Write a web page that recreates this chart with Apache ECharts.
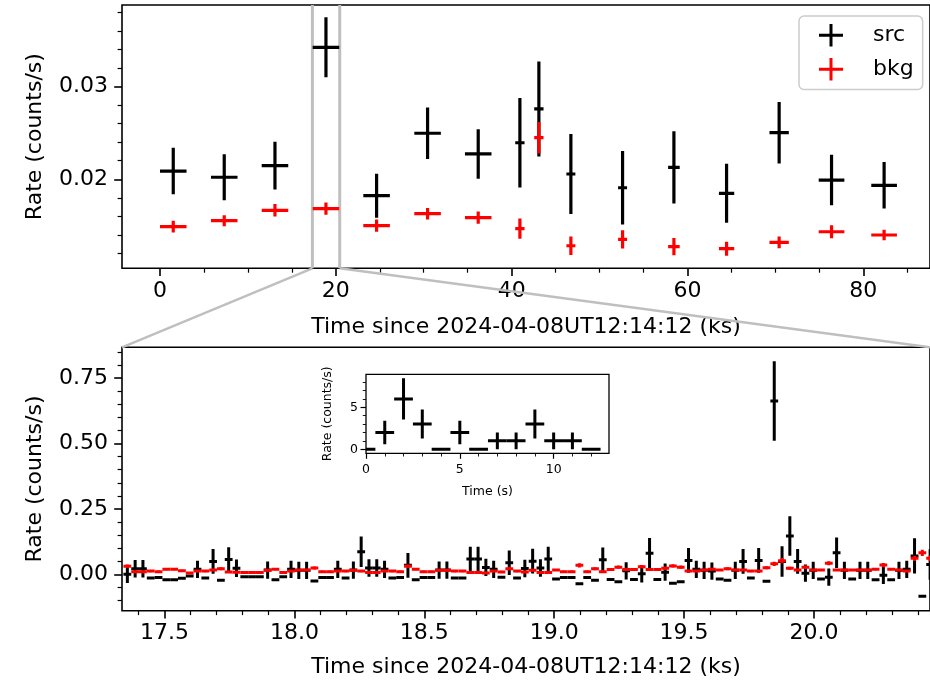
<!DOCTYPE html>
<html>
<head>
<meta charset="utf-8">
<script src="https://cdn.jsdelivr.net/npm/echarts@6/dist/echarts.min.js"></script>
<style>
  html, body { margin: 0; padding: 0; background: #fff; }
  #chart { width: 930px; height: 684px; }
</style>
</head>
<body>
<div id="chart"></div>
<script>
// ---- Orbit-binned light curve (top panel) ----
const orbitTime = [1.51, 7.31, 13.08, 18.88, 24.64, 30.44, 36.20, 40.94, 43.10, 46.74, 52.62, 58.46, 64.45, 70.43, 76.39, 82.37];
const orbitHalfWidth = [1.51, 1.51, 1.51, 1.51, 1.51, 1.51, 1.51, 0.53, 0.53, 0.51, 0.51, 0.66, 0.87, 1.10, 1.46, 1.46];
const orbitSrc = [0.02089, 0.02022, 0.02147, 0.03422, 0.01823, 0.02496, 0.02273, 0.02394, 0.02758, 0.02057, 0.01909, 0.02129, 0.01849, 0.02502, 0.01992, 0.01935];
const orbitSrcErr = [0.00251, 0.00248, 0.00257, 0.00323, 0.00237, 0.00278, 0.00267, 0.00482, 0.00512, 0.00431, 0.00395, 0.00390, 0.00318, 0.00332, 0.00273, 0.00251];
const orbitBkg = [0.01489, 0.01554, 0.01666, 0.01683, 0.01500, 0.01629, 0.01586, 0.01468, 0.02448, 0.01284, 0.01353, 0.01274, 0.01252, 0.01321, 0.01435, 0.01400];
const orbitBkgErr = [0.00063, 0.00059, 0.00067, 0.00066, 0.00066, 0.00063, 0.00066, 0.00110, 0.00170, 0.00099, 0.00099, 0.00093, 0.00075, 0.00063, 0.00070, 0.00057];

// ---- 30 s light curve of the zoomed orbit (bottom panel) ----
const fineHalfWidth = 0.015;
const fineTime = [
  17.357, 17.387, 17.417, 17.447, 17.477, 17.507, 17.537, 17.567, 17.597, 17.627,
  17.657, 17.687, 17.717, 17.747, 17.777, 17.807, 17.837, 17.867, 17.897, 17.927,
  17.957, 17.987, 18.017, 18.047, 18.077, 18.107, 18.137, 18.167, 18.197, 18.227,
  18.257, 18.287, 18.317, 18.347, 18.377, 18.407, 18.437, 18.467, 18.497, 18.527,
  18.557, 18.587, 18.617, 18.647, 18.677, 18.707, 18.737, 18.767, 18.797, 18.827,
  18.857, 18.887, 18.917, 18.947, 18.977, 19.007, 19.037, 19.067, 19.097, 19.127,
  19.157, 19.187, 19.217, 19.247, 19.277, 19.307, 19.337, 19.367, 19.397, 19.427,
  19.457, 19.487, 19.517, 19.547, 19.577, 19.607, 19.637, 19.667, 19.697, 19.727,
  19.757, 19.787, 19.817, 19.847, 19.877, 19.907, 19.937, 19.967, 19.997, 20.027,
  20.057, 20.087, 20.117, 20.147, 20.177, 20.207, 20.237, 20.267, 20.297, 20.327,
  20.357, 20.387, 20.417, 20.447
];
const fineSrc = [
  0.001, 0.022, 0.022, -0.013, -0.011, -0.020, -0.020, -0.014, -0.006, 0.020,
  -0.013, 0.050, -0.022, 0.057, 0.024, -0.008, -0.008, -0.008, 0.017, -0.020,
  -0.008, 0.020, 0.016, 0.016, -0.025, -0.011, -0.011, 0.020, -0.013, 0.017,
  0.087, 0.025, 0.025, 0.020, -0.013, -0.011, 0.035, -0.020, -0.011, -0.011,
  0.017, 0.017, -0.013, -0.013, 0.059, 0.059, 0.027, 0.020, -0.010, 0.045,
  -0.013, 0.023, 0.051, 0.025, 0.059, -0.017, -0.011, -0.011, -0.035, -0.011,
  -0.022, 0.056, -0.019, -0.028, 0.014, -0.019, 0.003, 0.081, -0.019, 0.009,
  -0.033, -0.028, 0.054, 0.020, 0.016, 0.013, -0.017, -0.022, 0.016, 0.050,
  -0.013, 0.054, -0.026, 0.662, 0.050, 0.147, 0.050, 0.005, 0.016, -0.017,
  -0.010, 0.083, 0.016, -0.017, 0.016, 0.016, -0.020, -0.003, -0.020, 0.016,
  0.020, 0.071, -0.083, 0.038
];
const fineSrcErr = [
  0.033, 0.033, 0.033, 0, 0, 0, 0, 0, 0, 0.033,
  0, 0.047, 0, 0.047, 0.033, 0, 0, 0, 0.033, 0,
  0, 0.033, 0.033, 0.033, 0, 0, 0, 0.033, 0, 0.033,
  0.058, 0.033, 0.033, 0.033, 0, 0, 0.047, 0, 0, 0,
  0.033, 0.033, 0, 0, 0.047, 0.047, 0.033, 0.033, 0, 0.047,
  0, 0.033, 0.047, 0.033, 0.047, 0, 0, 0, 0, 0,
  0, 0.047, 0, 0, 0.033, 0, 0.033, 0.058, 0, 0.033,
  0, 0, 0.047, 0.033, 0.033, 0.033, 0, 0, 0.033, 0.047,
  0, 0.047, 0, 0.152, 0.058, 0.075, 0.047, 0.033, 0.033, 0,
  0.033, 0.058, 0.033, 0, 0.033, 0.033, 0, 0.033, 0, 0.033,
  0.033, 0.067, 0, 0.058
];
const fineBkg = [
  0.032, 0.011, 0.011, 0.013, 0.011, 0.020, 0.020, 0.014, 0.006, 0.013,
  0.013, 0.017, 0.022, 0.010, 0.009, 0.008, 0.008, 0.008, 0.016, 0.020,
  0.008, 0.013, 0.017, 0.017, 0.025, 0.011, 0.011, 0.013, 0.013, 0.016,
  0.013, 0.008, 0.008, 0.013, 0.013, 0.011, 0.032, 0.020, 0.011, 0.011,
  0.016, 0.016, 0.013, 0.013, 0.008, 0.008, 0.006, 0.013, 0.010, 0.022,
  0.013, 0.010, 0.016, 0.008, 0.008, 0.017, 0.011, 0.011, 0.035, 0.011,
  0.022, 0.011, 0.019, 0.028, 0.019, 0.019, 0.030, 0.019, 0.019, 0.024,
  0.033, 0.028, 0.013, 0.013, 0.017, 0.020, 0.017, 0.022, 0.017, 0.017,
  0.013, 0.013, 0.026, 0.041, 0.053, 0.024, 0.017, 0.028, 0.017, 0.017,
  0.043, 0.017, 0.017, 0.017, 0.017, 0.017, 0.020, 0.036, 0.020, 0.017,
  0.013, 0.062, 0.083, 0.062
];
const fineBkgErr = [
  0.006, 0.004, 0.004, 0.004, 0.004, 0.004, 0.004, 0.004, 0.004, 0.004,
  0.004, 0.004, 0.006, 0.004, 0.004, 0.004, 0.004, 0.004, 0.004, 0.004,
  0.004, 0.004, 0.004, 0.004, 0.006, 0.004, 0.004, 0.004, 0.004, 0.004,
  0.004, 0.004, 0.004, 0.004, 0.004, 0.004, 0.006, 0.004, 0.004, 0.004,
  0.004, 0.004, 0.004, 0.004, 0.004, 0.004, 0.004, 0.004, 0.004, 0.006,
  0.004, 0.004, 0.004, 0.004, 0.004, 0.004, 0.004, 0.004, 0.008, 0.004,
  0.006, 0.004, 0.004, 0.006, 0.004, 0.004, 0.006, 0.004, 0.004, 0.006,
  0.006, 0.006, 0.004, 0.004, 0.004, 0.004, 0.004, 0.006, 0.004, 0.004,
  0.004, 0.004, 0.006, 0.008, 0.010, 0.006, 0.004, 0.006, 0.004, 0.004,
  0.008, 0.004, 0.004, 0.004, 0.004, 0.004, 0.004, 0.008, 0.004, 0.004,
  0.004, 0.010, 0.012, 0.010
];

// ---- 1 s light curve of the flare (inset) ----
const burstHalfWidth = 0.5;
const burstTime = [0, 1, 2, 3, 4, 5, 6, 7, 8, 9, 10, 11, 12];
const burstRate = [0, 2, 6, 3, 0, 2, 0, 1, 1, 3, 1, 1, 0];
const burstErr = [0, 1.41, 2.45, 1.73, 0, 1.41, 0, 1, 1, 1.73, 1, 1, 0];

// ---- Axis ranges and ticks ----
const zoomStart = 17.3364, zoomEnd = 20.4465;
const topX = { min: -4.32, max: 87.59, major: [0, 20, 40, 60, 80], minor: [5, 10, 15, 25, 30, 35, 45, 50, 55, 65, 70, 75, 85] };
const topY = { min: 0.010409, max: 0.038782, major: [0.02, 0.03], minor: [0.012, 0.014, 0.016, 0.018, 0.022, 0.024, 0.026, 0.028, 0.032, 0.034, 0.036, 0.038] };
const fineX = { min: zoomStart, max: zoomEnd, major: [17.5, 18.0, 18.5, 19.0, 19.5, 20.0],
  minor: [17.4, 17.6, 17.7, 17.8, 17.9, 18.1, 18.2, 18.3, 18.4, 18.6, 18.7, 18.8, 18.9, 19.1, 19.2, 19.3, 19.4, 19.6, 19.7, 19.8, 19.9, 20.1, 20.2, 20.3, 20.4] };
const fineY = { min: -0.138, max: 0.867, major: [0.0, 0.25, 0.5, 0.75],
  minor: [-0.1, -0.05, 0.05, 0.1, 0.15, 0.2, 0.3, 0.35, 0.4, 0.45, 0.55, 0.6, 0.65, 0.7, 0.8, 0.85] };
const burstX = { min: 0, max: 12.95, major: [0, 5, 10], minor: [1, 2, 3, 4, 6, 7, 8, 9, 11, 12] };
const burstY = { min: -0.48, max: 8.93, major: [0, 5], minor: [1, 2, 3, 4, 6, 7, 8] };

const FONT = 'DejaVu Sans';
const X_NAME = 'Time since 2024-04-08UT12:14:12 (ks)';
const Y_NAME = 'Rate (counts/s)';
const SRC_COLOR = '#000000';
const BKG_COLOR = '#ff0000';
const ZOOM_COLOR = '#bfbfbf';

function rows(x, y, xe, ye) {
  return x.map((t, i) => [t, y[i], Array.isArray(xe) ? xe[i] : xe, ye[i]]);
}

// Cross-shaped error bars: horizontal = bin width, vertical = 1 sigma
function errorBars(color, width) {
  return function (params, api) {
    const x = api.value(0), y = api.value(1), dx = api.value(2), dy = api.value(3);
    const mid = api.coord([x, y]);
    const left = api.coord([x - dx, y]);
    const right = api.coord([x + dx, y]);
    const style = { stroke: color, lineWidth: width, lineCap: 'butt', fill: null };
    const children = [{ type: 'line', shape: { x1: left[0], y1: mid[1], x2: right[0], y2: mid[1] }, style }];
    if (dy > 0) {
      const top = api.coord([x, y + dy]);
      const bottom = api.coord([x, y - dy]);
      children.push({ type: 'line', shape: { x1: mid[0], y1: top[1], x2: mid[0], y2: bottom[1] }, style });
    }
    return { type: 'group', children };
  };
}

function majorAxis(dim, grid, spec, opts) {
  const fs = opts.fontSize;
  const a = {
    type: 'value', gridIndex: grid, min: spec.min, max: spec.max,
    position: dim === 'x' ? 'bottom' : 'left',
    axisLine: { show: false, onZero: false },
    splitLine: { show: false },
    axisTick: { show: true, customValues: spec.major, length: opts.tickLen, lineStyle: { color: '#000', width: opts.tickWidth } },
    axisLabel: { show: true, customValues: spec.major, formatter: opts.fmt, fontSize: fs, fontFamily: FONT, color: '#000', margin: opts.labelMargin },
    name: opts.name, nameLocation: 'middle', nameGap: opts.nameGap,
    nameTextStyle: { fontSize: fs, fontFamily: FONT, color: '#000' }
  };
  if (dim === 'y') a.nameRotate = 90;
  return a;
}
function minorAxis(dim, grid, spec, len, width) {
  return {
    type: 'value', gridIndex: grid, min: spec.min, max: spec.max,
    position: dim === 'x' ? 'bottom' : 'left',
    axisLine: { show: false, onZero: false }, splitLine: { show: false },
    axisTick: { show: true, customValues: spec.minor, length: len, lineStyle: { color: '#000', width: width } },
    axisLabel: { show: false }
  };
}

const PLUS_ICON = 'path://M0,9.75 L24,9.75 L24,12.75 L0,12.75 Z M10.5,0 L13.5,0 L13.5,22.5 L10.5,22.5 Z';

const chart = echarts.init(document.getElementById('chart'), null, { renderer: 'canvas' });

const option = {
  animation: false,
  backgroundColor: '#ffffff',
  grid: [
    { left: 122, top: 5, width: 808, height: 263.3, show: true, borderColor: '#000', borderWidth: 1.6, backgroundColor: 'transparent' },
    { left: 122, top: 347.3, width: 808, height: 263.4, show: true, borderColor: '#000', borderWidth: 1.6, backgroundColor: 'transparent' },
    { left: 366, top: 374.3, width: 243, height: 79, show: true, borderColor: '#000', borderWidth: 1.3, backgroundColor: '#ffffff', z: 5 }
  ],
  xAxis: [
    majorAxis('x', 0, topX, { fontSize: 22, tickLen: 7.8, tickWidth: 1.6, labelMargin: 12, name: X_NAME, nameGap: 48, fmt: v => String(v) }),
    minorAxis('x', 0, topX, 4.4, 1.2),
    majorAxis('x', 1, fineX, { fontSize: 22, tickLen: 7.8, tickWidth: 1.6, labelMargin: 12, name: X_NAME, nameGap: 46, fmt: v => v.toFixed(1) }),
    minorAxis('x', 1, fineX, 4.4, 1.2),
    majorAxis('x', 2, burstX, { fontSize: 12.5, tickLen: 5.5, tickWidth: 1.2, labelMargin: 10, name: 'Time (s)', nameGap: 32, fmt: v => String(v) }),
    minorAxis('x', 2, burstX, 3.2, 0.9)
  ],
  yAxis: [
    majorAxis('y', 0, topY, { fontSize: 22, tickLen: 7.8, tickWidth: 1.6, labelMargin: 14, name: Y_NAME, nameGap: 76, fmt: v => v.toFixed(2) }),
    minorAxis('y', 0, topY, 4.4, 1.2),
    majorAxis('y', 1, fineY, { fontSize: 22, tickLen: 7.8, tickWidth: 1.6, labelMargin: 14, name: Y_NAME, nameGap: 76, fmt: v => v.toFixed(2) }),
    minorAxis('y', 1, fineY, 4.4, 1.2),
    majorAxis('y', 2, burstY, { fontSize: 12.5, tickLen: 5.5, tickWidth: 1.2, labelMargin: 8, name: Y_NAME, nameGap: 32, fmt: v => String(v) }),
    minorAxis('y', 2, burstY, 3.2, 0.9)
  ],
  legend: {
    data: [{ name: 'src', icon: PLUS_ICON }, { name: 'bkg', icon: PLUS_ICON }],
    orient: 'vertical', left: 799, top: 16,
    padding: [8, 9, 9, 20],
    itemWidth: 24, itemHeight: 22.5, itemGap: 11.5,
    itemStyle: { borderWidth: 0 },
    textStyle: { fontSize: 22, lineHeight: 22, fontFamily: FONT, color: '#000', padding: [0, 0, 0, 25] },
    borderColor: '#cccccc', borderWidth: 1.5, borderRadius: 5,
    backgroundColor: 'rgba(255,255,255,0.8)',
    selectedMode: false
  },
  series: [
    { name: 'src', type: 'custom', xAxisIndex: 0, yAxisIndex: 0, clip: true, z: 3,
      itemStyle: { color: SRC_COLOR },
      renderItem: errorBars(SRC_COLOR, 3.2),
      data: rows(orbitTime, orbitSrc, orbitHalfWidth, orbitSrcErr), encode: { x: 0, y: 1 } },
    { name: 'bkg', type: 'custom', xAxisIndex: 0, yAxisIndex: 0, clip: true, z: 4,
      itemStyle: { color: BKG_COLOR },
      renderItem: errorBars(BKG_COLOR, 3.2),
      data: rows(orbitTime, orbitBkg, orbitHalfWidth, orbitBkgErr), encode: { x: 0, y: 1 } },
    { name: 'src', type: 'custom', xAxisIndex: 2, yAxisIndex: 2, clip: true, z: 3,
      itemStyle: { color: SRC_COLOR },
      renderItem: errorBars(SRC_COLOR, 3),
      data: rows(fineTime, fineSrc, fineHalfWidth, fineSrcErr), encode: { x: 0, y: 1 } },
    { name: 'bkg', type: 'custom', xAxisIndex: 2, yAxisIndex: 2, clip: true, z: 4,
      itemStyle: { color: BKG_COLOR },
      renderItem: errorBars(BKG_COLOR, 3),
      data: rows(fineTime, fineBkg, fineHalfWidth, fineBkgErr), encode: { x: 0, y: 1 } },
    { name: 'flare', type: 'custom', xAxisIndex: 4, yAxisIndex: 4, clip: true, z: 6,
      itemStyle: { color: SRC_COLOR },
      renderItem: errorBars(SRC_COLOR, 3),
      data: rows(burstTime, burstRate, burstHalfWidth, burstErr), encode: { x: 0, y: 1 } }
  ]
};
chart.setOption(option);

// Zoom indicator: span of the bottom panel marked on the top panel, joined to the bottom panel corners
const topFinder = { xAxisIndex: 0, yAxisIndex: 0 };
const fineFinder = { xAxisIndex: 2, yAxisIndex: 2 };
const a0 = chart.convertToPixel(topFinder, [zoomStart, topY.min]);
const a1 = chart.convertToPixel(topFinder, [zoomStart, topY.max]);
const b0 = chart.convertToPixel(topFinder, [zoomEnd, topY.min]);
const b1 = chart.convertToPixel(topFinder, [zoomEnd, topY.max]);
const c0 = chart.convertToPixel(fineFinder, [zoomStart, fineY.max]);
const c1 = chart.convertToPixel(fineFinder, [zoomEnd, fineY.max]);
const zoomStyle = { stroke: ZOOM_COLOR, lineWidth: 3 };
chart.setOption({
  graphic: [
    { type: 'line', z: 1, shape: { x1: a0[0], y1: a0[1], x2: a1[0], y2: a1[1] }, style: zoomStyle, silent: true },
    { type: 'line', z: 1, shape: { x1: b0[0], y1: b0[1], x2: b1[0], y2: b1[1] }, style: zoomStyle, silent: true },
    { type: 'line', z: 1, shape: { x1: a0[0], y1: a0[1], x2: c0[0], y2: c0[1] }, style: { stroke: ZOOM_COLOR, lineWidth: 2.4 }, silent: true },
    { type: 'line', z: 1, shape: { x1: b0[0], y1: b0[1], x2: c1[0], y2: c1[1] }, style: { stroke: ZOOM_COLOR, lineWidth: 2.4 }, silent: true }
  ]
});
</script>
</body>
</html>
